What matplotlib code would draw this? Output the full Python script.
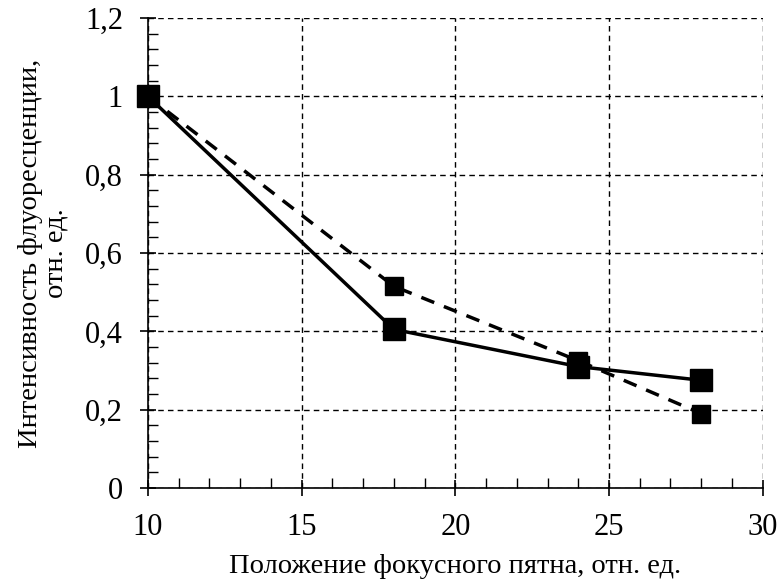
import matplotlib.pyplot as plt
from matplotlib.ticker import MultipleLocator, FuncFormatter

# data
x = [10, 18, 24, 28]
solid_y = [1.0, 0.405, 0.31, 0.275]
dashed_y = [1.0, 0.515, 0.325, 0.19]

plt.rcParams['font.family'] = ['Liberation Serif', 'DejaVu Serif']

fig = plt.figure(figsize=(7.79, 5.83), dpi=100)
ax = fig.add_axes([0.19, 0.163, 0.789, 0.806])

ax.plot(x, dashed_y, color='black', lw=2.5, ls=(0, (4, 3)), marker='s', ms=13,
        zorder=3, clip_on=False)
ax.plot(x, solid_y, color='black', lw=2.5, marker='s', ms=16, zorder=4, clip_on=False)

ax.set_xlim(10, 30)
ax.set_ylim(0, 1.2)
ax.xaxis.set_major_locator(MultipleLocator(5))
ax.xaxis.set_minor_locator(MultipleLocator(1))
ax.yaxis.set_major_locator(MultipleLocator(0.2))
ax.yaxis.set_minor_locator(MultipleLocator(0.04))

def comma(v, pos):
    s = f'{v:.1f}'.rstrip('0').rstrip('.')
    return s.replace('.', ',')

ax.yaxis.set_major_formatter(FuncFormatter(comma))

ax.grid(True, which='major', color='black', ls=(0, (4, 3)), lw=1.0)
ax.spines['top'].set_visible(False)
ax.spines['right'].set_visible(False)
ax.spines['left'].set_linewidth(1.2)
ax.spines['bottom'].set_linewidth(1.2)

ax.tick_params(axis='both', which='major', direction='inout', length=12, width=1.2,
               labelsize=22, pad=12)
ax.tick_params(axis='both', which='minor', direction='in', length=7, width=1.0)
ax.tick_params(axis='y', which='major', pad=12)

ax.set_xlabel('Положение фокусного пятна, отн. ед.', fontsize=20.5, labelpad=9)
ax.set_ylabel('Интенсивность флуоресценции,\nотн. ед.', fontsize=20.5, labelpad=12,
              linespacing=1.0)

fig.savefig('out.png', dpi=100)
